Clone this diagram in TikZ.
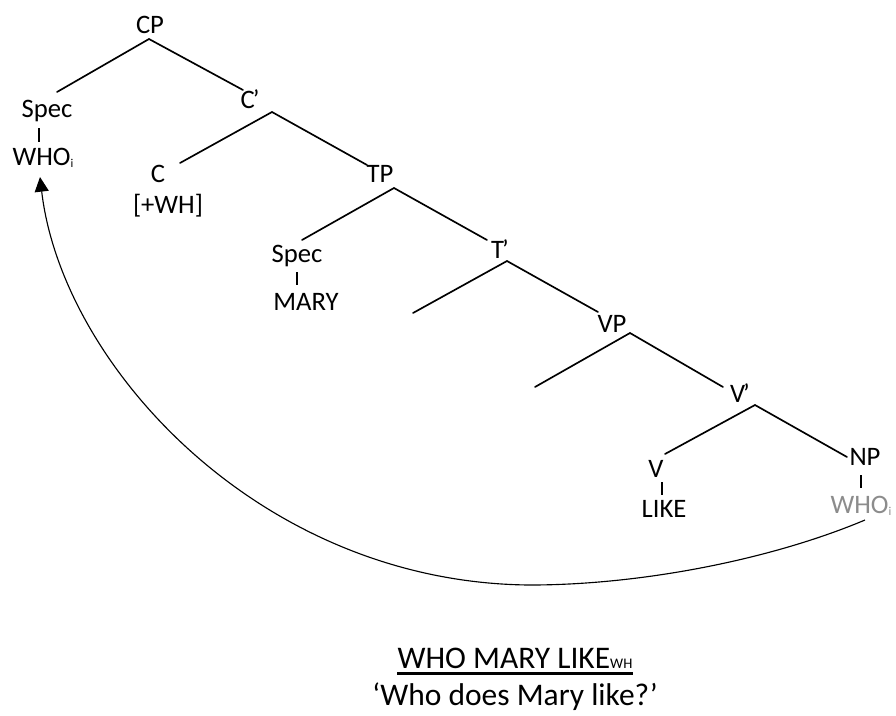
\documentclass[tikz,border=0pt]{standalone}
\usepackage{fontspec}
\setmainfont{Carlito}
\usetikzlibrary{arrows.meta}
\definecolor{TraceClr}{gray}{0.55}
\newcommand{\idx}{\raisebox{-1.5pt}{\fontsize{9}{10}\selectfont i}}
\newcommand{\barLbl}[1]{#1\kern-1.5pt’}
\tikzset{
  lbl/.style={anchor=base,inner sep=0pt,font=\fontsize{20}{22}\selectfont},
  gloss/.style={anchor=base,inner sep=0pt,font=\fontsize{23.6}{26}\selectfont},
  branch/.style={line width=1.25pt,line cap=round},
  tick/.style={line width=1pt},
  movement/.style={line width=0.85pt,-{Triangle[length=11pt,width=10.5pt]}}
}
\begin{document}
\begin{tikzpicture}[x=0.75pt,y=-0.75pt]
\useasboundingbox (0,0) rectangle (896,715);

\node[lbl] (cp) at (150,33) {CP};
\node[lbl] (specC) at (47,117) {Spec};
\node[lbl] (whoC) at (43,165) {WHO\idx};
\node[lbl] (cbar) at (250,108) {\barLbl{C}};
\node[lbl] (c) at (158,182) {C};
\node[lbl] (plusWH) at (168,213) {[+WH]};
\node[lbl] (tp) at (380,182) {TP};
\node[lbl] (specT) at (297,262) {Spec};
\node[lbl] (mary) at (306,310) {MARY};
\node[lbl] (tbar) at (500,258) {\barLbl{T}};
\node[lbl] (vp) at (612,332) {VP};
\node[lbl] (vbar) at (740,402) {\barLbl{V}};
\node[lbl] (v) at (656,477) {V};
\node[lbl] (like) at (664,517) {LIKE};
\node[lbl] (np) at (865,465) {NP};
\node[lbl,text=TraceClr] (whoNP) at (861,513) {WHO\idx};

\coordinate (cpA) at (149,39);
\coordinate (specCE) at (57,92);
\coordinate (cbarW) at (243,90);
\coordinate (cbarA) at (272,112);
\coordinate (cE) at (180,163);
\coordinate (tpW) at (367,165);
\coordinate (tpA) at (394,188);
\coordinate (specTE) at (302,240);
\coordinate (tbarW) at (487,240);
\coordinate (tbarA) at (507,261);
\coordinate (tLeft) at (413,313);
\coordinate (vpW) at (598,312);
\coordinate (vpA) at (630,333);
\coordinate (vLeft) at (535,387);
\coordinate (vbarW) at (723,387);
\coordinate (vbarA) at (755,405);
\coordinate (vE) at (665,454);
\coordinate (npW) at (847,457);

\draw[branch] (specCE) -- (cpA) -- (cbarW);
\draw[branch] (cE) -- (cbarA) -- (tpW);
\draw[branch] (specTE) -- (tpA) -- (tbarW);
\draw[branch] (tLeft) -- (tbarA) -- (vpW);
\draw[branch] (vLeft) -- (vpA) -- (vbarW);
\draw[branch] (vE) -- (vbarA) -- (npW);

\coordinate (tickCa) at (39,128);
\coordinate (tickCb) at (39,142);
\coordinate (tickTa) at (297,272);
\coordinate (tickTb) at (297,285);
\coordinate (tickVa) at (662,482);
\coordinate (tickVb) at (662,495);
\coordinate (tickNa) at (861,475);
\coordinate (tickNb) at (861,488);
\draw[tick] (tickCa) -- (tickCb);
\draw[tick] (tickTa) -- (tickTb);
\draw[tick] (tickVa) -- (tickVb);
\draw[tick] (tickNa) -- (tickNb);

\coordinate (moveS) at (865,520);
\coordinate (moveM) at (530,585);
\coordinate (moveT) at (40,177);
\draw[movement] (moveS) .. controls (770,560) and (640,585) .. (moveM)
  .. controls (260,583) and (62,365) .. (moveT);

\node[gloss] (surface) at (515,668) {WHO MARY LIKE{\fontsize{11}{13}\selectfont WH}};
\draw[line width=2.2pt] ([yshift=-4pt]surface.base west) -- ([yshift=-4pt]surface.base east);
\node[gloss] (trans) at (515,705) {‘Who does Mary like?’};
\end{tikzpicture}
\end{document}
